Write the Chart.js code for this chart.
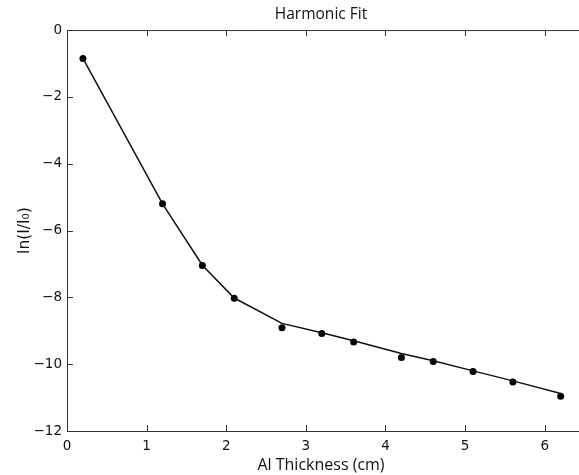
<!DOCTYPE html>
<html>
<head>
<meta charset="utf-8">
<script src="https://cdn.jsdelivr.net/npm/chart.js@4/dist/chart.umd.min.js"></script>
<style>
html,body{margin:0;padding:0;background:#fff;}
#wrap{width:579px;height:475px;}
</style>
</head>
<body>
<div id="wrap"><canvas id="c" width="579" height="475"></canvas></div>
<script>
const thickness = [0.2, 1.2, 1.7, 2.1, 2.7, 3.2, 3.6, 4.2, 4.6, 5.1, 5.6, 6.2];
const lnRatio   = [-0.85, -5.2, -7.05, -8.03, -8.91, -9.08, -9.34, -9.8, -9.92, -10.22, -10.53, -10.96];
const fitValues = [-0.85, -5.2, -7.04, -8.02, -8.78, -9.06, -9.3, -9.68, -9.9, -10.2, -10.5, -10.88];
const xTicks = [0, 1, 2, 3, 4, 5, 6];
const yTicks = [-12, -10, -8, -6, -4, -2, 0];

const axisColor = '#333333';

const framePlugin = {
  id: 'frame',
  afterDraw(chart) {
    const ctx = chart.ctx;
    const a = chart.chartArea;
    const xs = chart.scales.x, ys = chart.scales.y;
    ctx.save();
    ctx.strokeStyle = axisColor;
    ctx.lineWidth = 1;
    ctx.beginPath();
    ctx.moveTo(a.left, a.top + 0.5);
    ctx.lineTo(chart.width, a.top + 0.5);
    ctx.moveTo(a.right - 1, a.bottom + 0.5);
    ctx.lineTo(chart.width, a.bottom + 0.5);
    ctx.stroke();
    const L = 6;
    ctx.beginPath();
    xTicks.forEach(v => {
      const px = Math.round(xs.getPixelForValue(v)) + 0.5;
      ctx.moveTo(px, a.bottom); ctx.lineTo(px, a.bottom - L);
      ctx.moveTo(px, a.top); ctx.lineTo(px, a.top + L);
    });
    yTicks.forEach(v => {
      const py = Math.round(ys.getPixelForValue(v)) + 0.5;
      ctx.moveTo(a.left, py); ctx.lineTo(a.left + L, py);
    });
    ctx.stroke();
    ctx.restore();
  }
};

new Chart(document.getElementById('c'), {
  type: 'scatter',
  data: {
    datasets: [
      {
        label: 'fit',
        data: thickness.map((x, i) => ({x: x, y: fitValues[i]})),
        showLine: true,
        borderColor: '#111111',
        borderWidth: 1.5,
        pointRadius: 0,
        fill: false,
        tension: 0
      },
      {
        label: 'data',
        data: thickness.map((x, i) => ({x: x, y: lnRatio[i]})),
        showLine: false,
        backgroundColor: '#000000',
        borderColor: '#000000',
        pointRadius: 3.5,
        pointBorderWidth: 0
      }
    ]
  },
  options: {
    responsive: false,
    animation: false,
    layout: {padding: {left: 0, right: 0, top: 0, bottom: 0}},
    plugins: {
      legend: {display: false},
      tooltip: {enabled: false},
      title: {
        display: true,
        text: 'Harmonic Fit',
        fullSize: false,
        color: '#111',
        font: {family: '"Open Sans"', size: 15.5, weight: 'normal', lineHeight: 1.1},
        padding: {top: 6, bottom: 7}
      }
    },
    scales: {
      x: {
        type: 'linear',
        min: 0,
        max: 6.38,
        afterFit(s) { s.height = 44; },
        afterBuildTicks(s) { s.ticks = xTicks.map(v => ({value: v})); },
        border: {display: true, color: axisColor, width: 1},
        grid: {display: false, drawTicks: false},
        ticks: {
          padding: 7,
          color: '#111',
          font: {family: '"DejaVu Sans"', size: 13.5},
          maxRotation: 0,
          autoSkip: false
        },
        title: {
          display: true,
          text: 'Al Thickness (cm)',
          color: '#111',
          font: {family: '"Open Sans"', size: 16},
          padding: {top: 2, bottom: 0}
        }
      },
      y: {
        type: 'linear',
        min: -12,
        max: 0,
        afterFit(s) { s.width = 67; },
        afterBuildTicks(s) { s.ticks = yTicks.map(v => ({value: v})); },
        border: {display: true, color: axisColor, width: 1},
        grid: {display: false, drawTicks: false},
        ticks: {
          padding: 5,
          color: '#111',
          font: {family: '"DejaVu Sans"', size: 13.5},
          autoSkip: false,
          callback: v => (v < 0 ? '\u2212' + Math.abs(v) : String(v))
        },
        title: {
          display: true,
          text: 'ln(I/I\u2080)',
          color: '#111',
          font: {family: '"DejaVu Sans"', size: 15.5},
          padding: {top: 16, bottom: 0}
        }
      }
    }
  },
  plugins: [framePlugin]
});
</script>
</body>
</html>
